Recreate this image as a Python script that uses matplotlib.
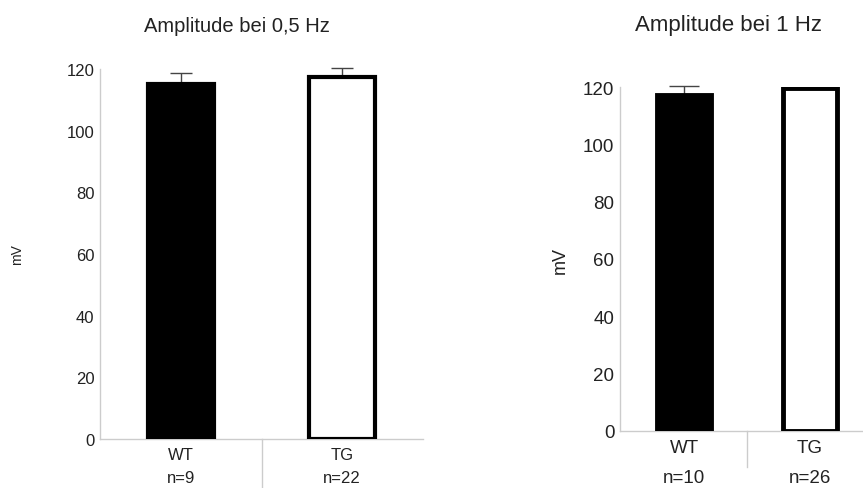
import matplotlib.pyplot as plt
from matplotlib.transforms import blended_transform_factory

plt.rcParams['font.family'] = ['Liberation Sans', 'DejaVu Sans']

groups = ["WT", "TG"]
means_05 = [115.0, 117.4]
err_05 = [3.8, 2.9]
n_05 = ["n=9", "n=22"]
means_1 = [117.4, 119.8]
err_1 = [3.0, 0.0]
n_1 = ["n=10", "n=26"]
yticks = [0, 20, 40, 60, 80, 100, 120]

W, H = 863, 489
fig = plt.figure(figsize=(W / 100, H / 100), dpi=100)


def px_axes(x0, x1, ytop, ybot):
    return fig.add_axes([x0 / W, 1 - ybot / H, (x1 - x0) / W, (ybot - ytop) / H])


def draw_panel(ax, means, errs, ns, xlim, width, fs, lw, cap, npos, sep_len, label_x, lab_fs):
    x = [0, 1]
    ax.bar(x[0], means[0], width=width, color="black", edgecolor="black", linewidth=lw, zorder=3)
    ax.bar(x[1], means[1], width=width, color="white", edgecolor="black", linewidth=lw, zorder=3)
    for xi, m, e in zip(x, means, errs):
        if e > 0:
            ax.errorbar(xi, m, yerr=[[0], [e]], fmt="none", ecolor="#444444",
                        elinewidth=1, capsize=cap, capthick=1, zorder=2, clip_on=False)
    ax.set_xlim(*xlim)
    ax.set_ylim(0, 120)
    ax.set_yticks(yticks)
    ax.set_xticks(x)
    ax.set_xticklabels(groups)
    ax.tick_params(length=0, labelsize=fs, colors="#222222", pad=4)
    ax.tick_params(axis="x", pad=6)
    for s in ["top", "right"]:
        ax.spines[s].set_visible(False)
    for s in ["left", "bottom"]:
        ax.spines[s].set_color("#cccccc")
        ax.spines[s].set_linewidth(1)
    tr = blended_transform_factory(ax.transData, ax.transAxes)
    ax.plot([0.5, 0.5], [0, -sep_len], color="#cccccc", lw=1, transform=tr, clip_on=False)
    for xi, n in zip(x, ns):
        ax.text(xi, npos, n, transform=tr, ha="center", va="center", fontsize=fs, color="#222222")
    ax.set_ylabel("mV", fontsize=lab_fs, color="#222222")
    ax.yaxis.set_label_coords(label_x, 0.5)


ax1 = px_axes(100, 423, 70, 440)
draw_panel(ax1, means_05, err_05, n_05, (-0.5, 1.5), 0.41, 12, 3, 8, -0.105, 0.133, -0.235, 10)
fig.text(237 / W, 1 - 27 / H, "Amplitude bei 0,5 Hz", ha="center", va="center", fontsize=14.5, color="#222222")

ax2 = px_axes(620, 863, 88.3, 431.7)
draw_panel(ax2, means_1, err_1, n_1, (-0.508, 1.42), 0.43, 13.5, 3.5, 11, -0.135, 0.105, -0.21, 13)
fig.text(728 / W, 1 - 25 / H, "Amplitude bei 1 Hz", ha="center", va="center", fontsize=16, color="#222222")

fig.savefig("out.png", dpi=100)
